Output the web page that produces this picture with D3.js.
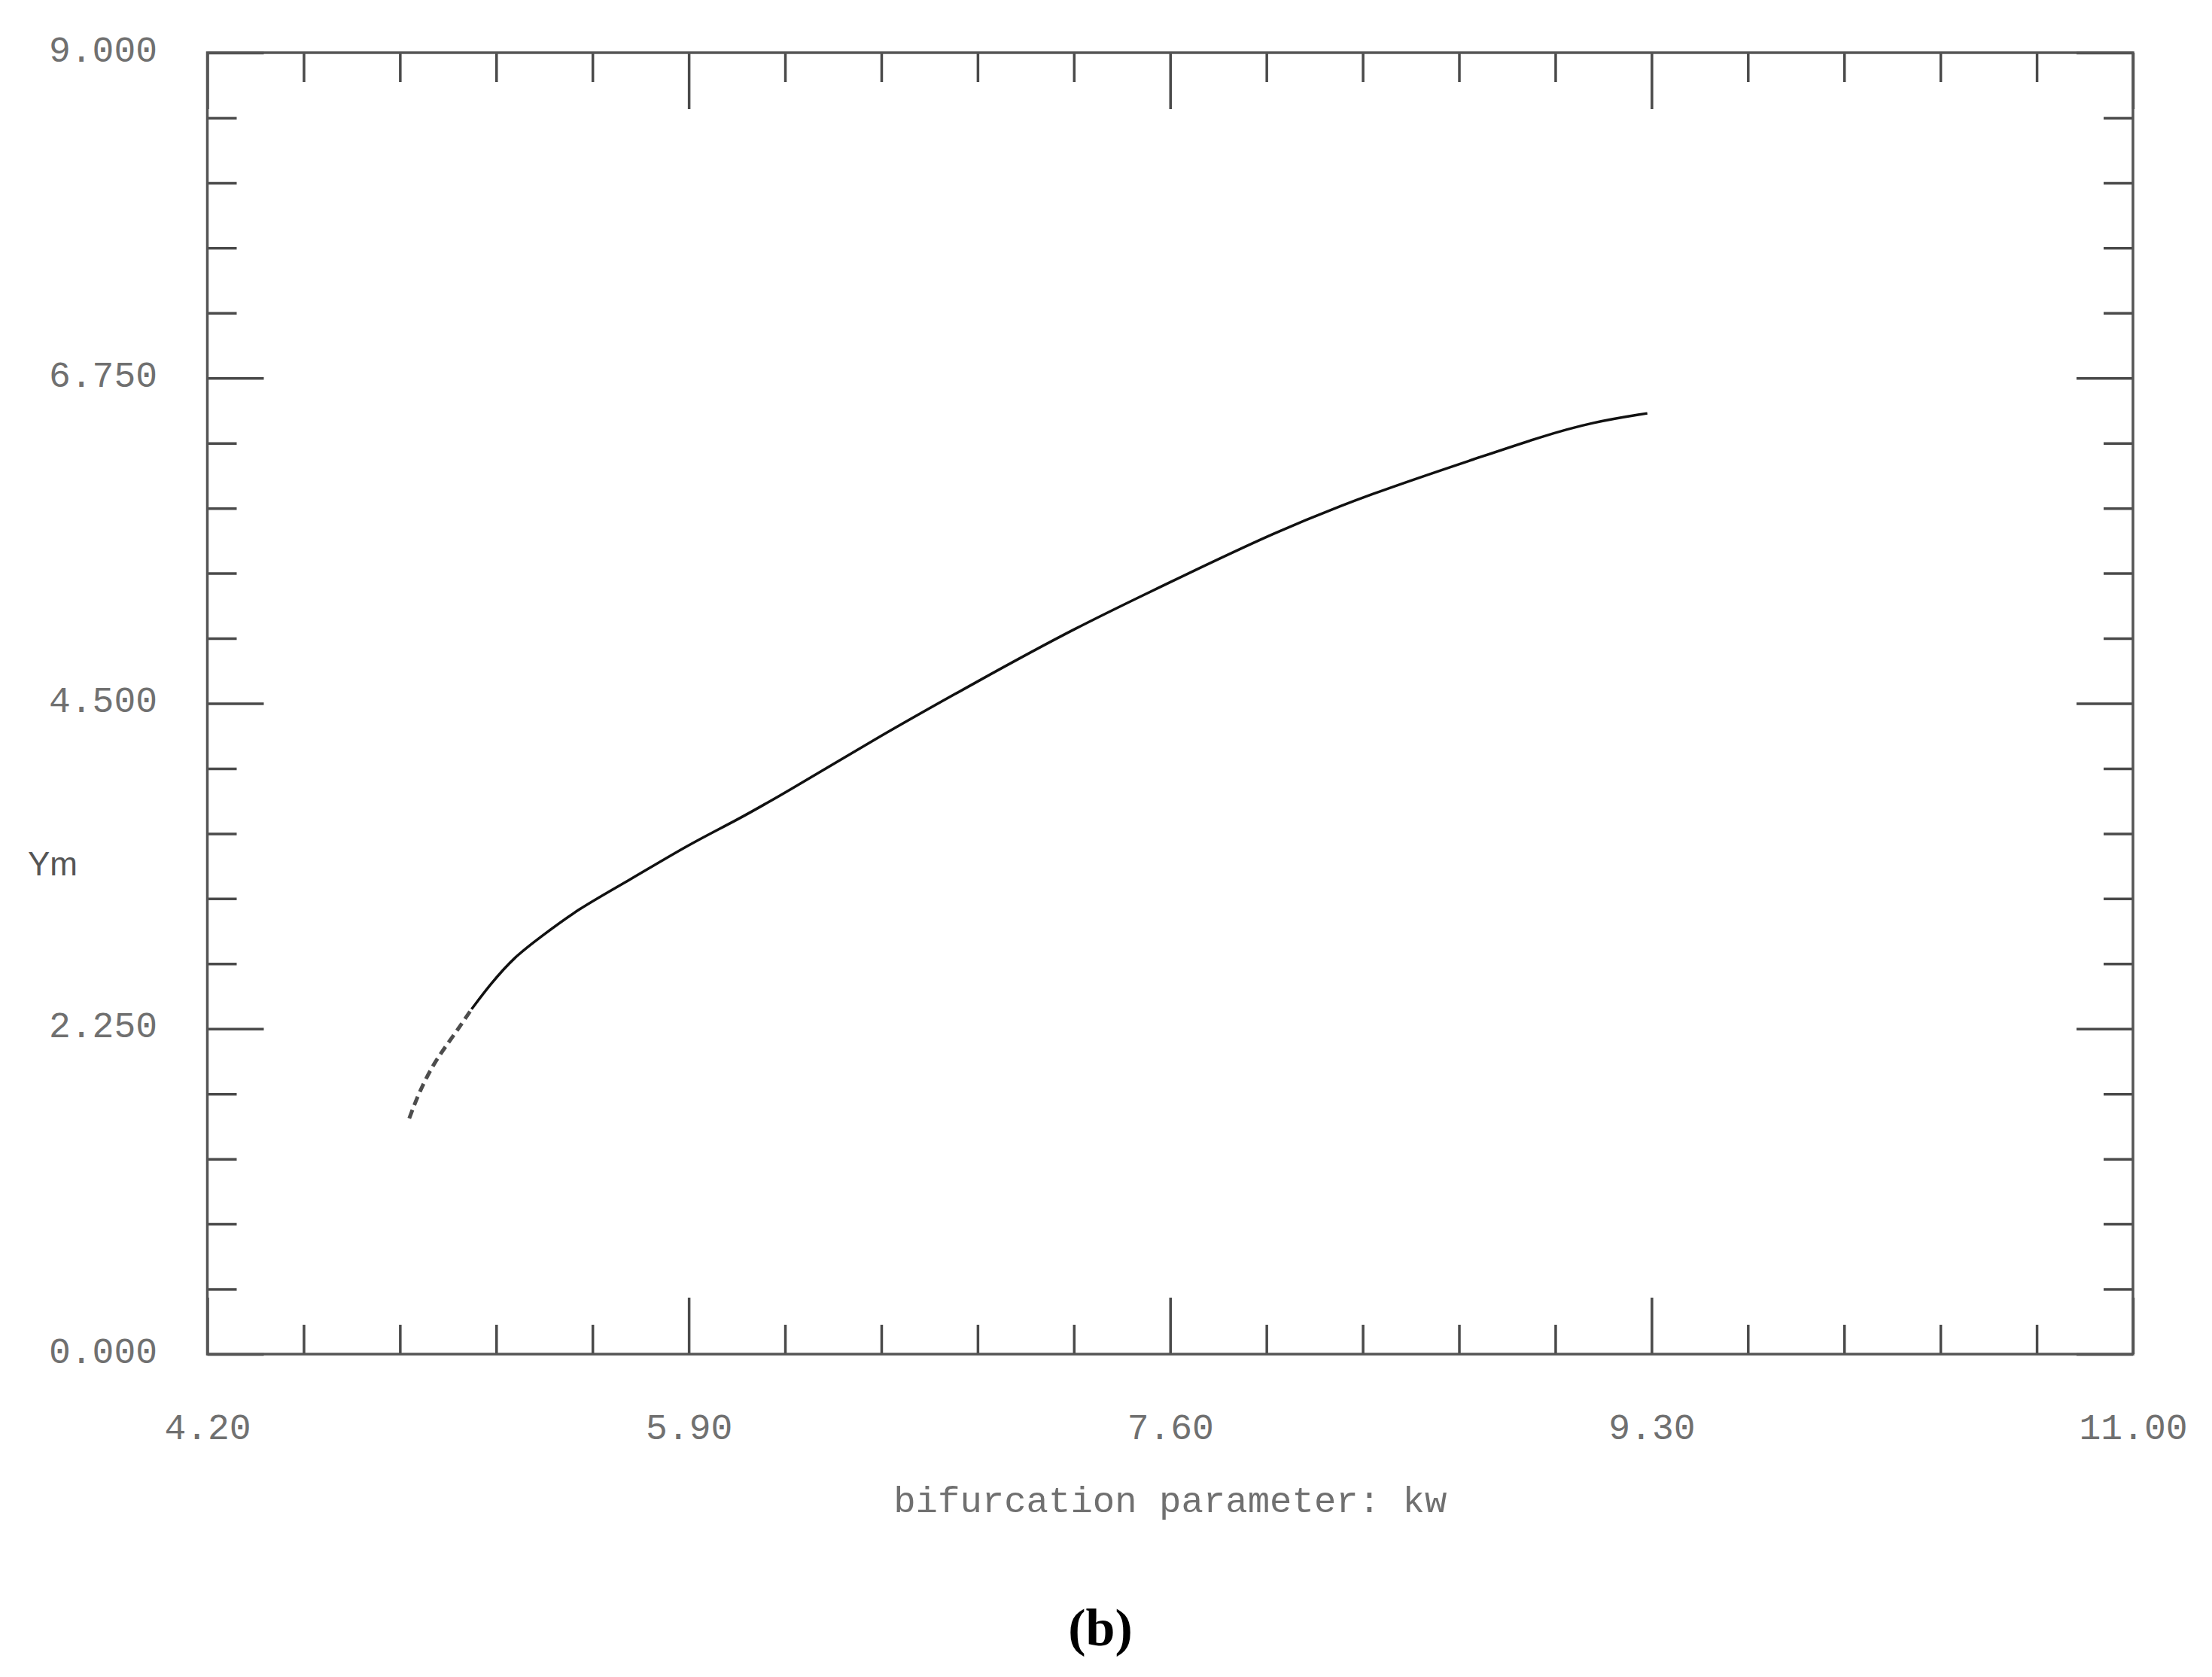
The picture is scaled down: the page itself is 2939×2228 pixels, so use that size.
<!doctype html>
<html>

<head>
	<title>Bifurcation diagram</title>
	<script src="https://d3js.org/d3.v7.min.js"></script>
	<style>
		body { margin: 0; background: #fff; }
	</style>
</head>

<body>

	<script>

		// continuation branch: bifurcation parameter kw vs Ym
		var kw = [4.913, 4.946, 5.001, 5.067, 5.133, 5.199, 5.287, 5.375, 5.507, 5.684, 5.904, 6.058,
			6.235, 6.565, 6.918, 7.262, 7.602, 7.967, 8.306, 8.698, 8.907, 9.090, 9.285];
		var ym = [1.630, 1.803, 2.019, 2.195, 2.385, 2.558, 2.752, 2.882, 3.076, 3.270, 3.529, 3.680,
			3.875, 4.263, 4.651, 5.020, 5.340, 5.683, 5.949, 6.205, 6.343, 6.445, 6.506];
		var dashedUntil = 4; // first points are drawn broken

		var xMajor = [4.20, 5.90, 7.60, 9.30, 11.00];
		var xMinor = [4.54, 4.88, 5.22, 5.56, 6.24, 6.58, 6.92, 7.26, 7.94, 8.28, 8.62, 8.96, 9.64, 9.98, 10.32, 10.66];
		var yMajor = [0, 2.25, 4.5, 6.75, 9];
		var yMinor = [0.45, 0.9, 1.35, 1.8, 2.7, 3.15, 3.6, 4.05, 4.95, 5.4, 5.85, 6.3, 7.2, 7.65, 8.1, 8.55];

		var width = 2939;
		var height = 2228;
		var plotLeft = 275.5, plotRight = 2834, plotTop = 70, plotBottom = 1799;

		var x = d3.scaleLinear().domain([4.2, 11.0]).range([plotLeft, plotRight]);
		var y = d3.scaleLinear().domain([0, 9]).range([plotBottom, plotTop]);

		var svg = d3.select("body")
			.append("svg")
			.attr("width", width)
			.attr("height", height);

		var tickColor = "#4a4a4a";
		var textColor = "#707070";
		var mono = "'Liberation Mono', 'DejaVu Sans Mono', monospace";

		function style(g) {
			g.select(".domain").remove();
			g.selectAll(".tick line").attr("stroke", tickColor).attr("stroke-width", 3.5);
			g.selectAll(".tick text").attr("fill", textColor)
				.attr("font-family", mono).attr("font-size", 48);
		}

		// ticks on all four sides, pointing inward
		function xAxis(ax, ticks, len, label) {
			return ax(x).tickValues(ticks).tickSize(-len).tickSizeOuter(0)
				.tickFormat(label ? d3.format(".2f") : "");
		}
		function yAxis(ax, ticks, len, label) {
			return ax(y).tickValues(ticks).tickSize(-len).tickSizeOuter(0)
				.tickFormat(label ? d3.format(".3f") : "");
		}

		svg.append("g").attr("transform", "translate(0," + plotBottom + ")")
			.call(xAxis(d3.axisBottom, xMinor, 39, false)).call(style);
		var bx = svg.append("g").attr("transform", "translate(0," + plotBottom + ")")
			.call(xAxis(d3.axisBottom, xMajor, 75, true)).call(style);
		bx.selectAll(".tick text").attr("dy", null).attr("y", 113);

		svg.append("g").attr("transform", "translate(0," + plotTop + ")")
			.call(xAxis(d3.axisTop, xMinor, 39, false)).call(style);
		svg.append("g").attr("transform", "translate(0," + plotTop + ")")
			.call(xAxis(d3.axisTop, xMajor, 75, false)).call(style);

		svg.append("g").attr("transform", "translate(" + plotLeft + ",0)")
			.call(yAxis(d3.axisLeft, yMinor, 39, false)).call(style);
		var ly = svg.append("g").attr("transform", "translate(" + plotLeft + ",0)")
			.call(yAxis(d3.axisLeft, yMajor, 75, true)).call(style);
		ly.selectAll(".tick text").attr("dy", null).attr("x", 209 - plotLeft).attr("y", 11);

		svg.append("g").attr("transform", "translate(" + plotRight + ",0)")
			.call(yAxis(d3.axisRight, yMinor, 39, false)).call(style);
		svg.append("g").attr("transform", "translate(" + plotRight + ",0)")
			.call(yAxis(d3.axisRight, yMajor, 75, false)).call(style);

		// frame
		svg.append("rect")
			.attr("x", plotLeft).attr("y", plotTop)
			.attr("width", plotRight - plotLeft).attr("height", plotBottom - plotTop)
			.attr("fill", "none").attr("stroke", "#555").attr("stroke-width", 3.5);

		var pts = kw.map(function (d, i) { return [d, ym[i]]; });
		var line = d3.line()
			.x(function (d) { return x(d[0]); })
			.y(function (d) { return y(d[1]); })
			.curve(d3.curveBasis);

		svg.append("path")
			.attr("d", line(pts.slice(0, dashedUntil + 1)))
			.attr("fill", "none")
			.attr("stroke", "#4d4d4d")
			.attr("stroke-width", 5)
			.attr("stroke-dasharray", "12,7");

		svg.append("path")
			.attr("d", line(pts.slice(dashedUntil)))
			.attr("fill", "none")
			.attr("stroke", "#111")
			.attr("stroke-width", 3.5);

		svg.append("text")
			.attr("x", 37).attr("y", 1163)
			.attr("font-family", "'Liberation Sans', Arial, sans-serif")
			.attr("font-size", 44)
			.attr("fill", "#555")
			.text("Ym");

		svg.append("text")
			.attr("x", (plotLeft + plotRight) / 2).attr("y", 2009)
			.attr("text-anchor", "middle")
			.attr("font-family", mono)
			.attr("font-size", 49)
			.attr("fill", textColor)
			.text("bifurcation parameter: kw");

		svg.append("text")
			.attr("x", 1462).attr("y", 2186)
			.attr("text-anchor", "middle")
			.attr("font-family", "'Liberation Serif', 'Times New Roman', serif")
			.attr("font-weight", "bold")
			.attr("font-size", 70)
			.attr("fill", "#000")
			.text("(b)");

	</script>
</body>

</html>
